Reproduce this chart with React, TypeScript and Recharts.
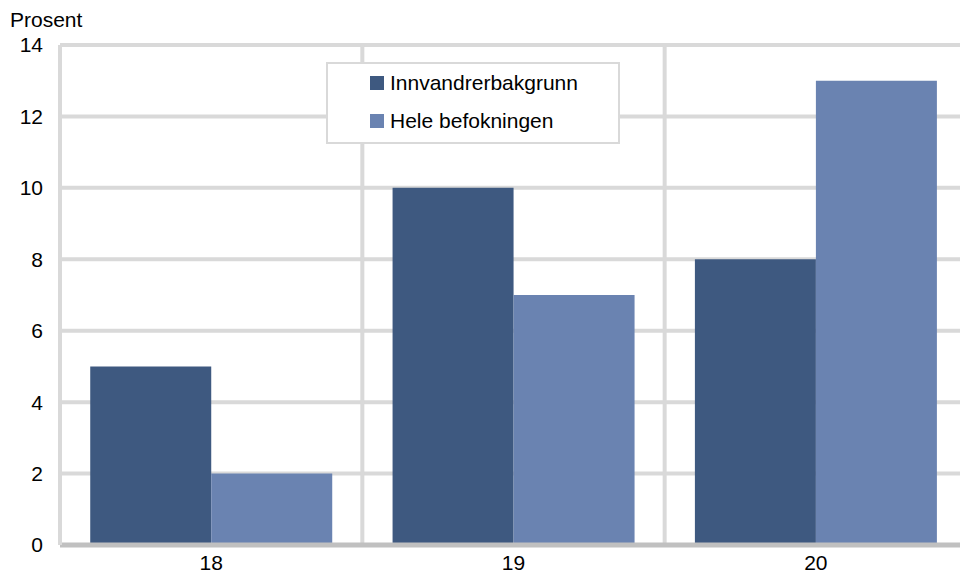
import { Bar, BarChart, CartesianGrid, XAxis, YAxis } from 'recharts';

const categories = ['18', '19', '20'];
const innvandrer = [5, 10, 8];
const heleBefolkningen = [2, 7, 13];
const yTicks = [0, 2, 4, 6, 8, 10, 12, 14];

const seriesNames = ['Innvandrerbakgrunn', 'Hele befokningen'];
const colors = ['#3e5980', '#6a83b1'];

const data = categories.map((c, i) => ({
    name: c,
    innvandrer: innvandrer[i],
    hele: heleBefolkningen[i]
}));

const font = 'Arial, "Liberation Sans", sans-serif';

function LegendBox() {
    return (
        <div
            style={{
                position: 'absolute',
                left: 326,
                top: 62,
                boxSizing: 'border-box',
                width: 294,
                height: 82,
                border: '2px solid #d9d9d9',
                background: '#fff',
                fontFamily: font,
                fontSize: 21,
                color: '#000',
                paddingLeft: 42,
                paddingTop: 0
            }}
        >
            {seriesNames.map((n, i) => (
                <div key={n} style={{ display: 'flex', alignItems: 'center', height: 38 }}>
                    <span style={{ display: 'inline-block', width: 14, height: 14, background: colors[i], marginRight: 6 }} />
                    <span>{n}</span>
                </div>
            ))}
        </div>
    );
}

export default function App() {
    return (
        <div style={{ position: 'absolute', left: 0, top: 0, width: 960, height: 579, overflow: 'hidden', background: '#fff' }}>
            <div style={{ position: 'absolute', left: 10, top: 8, fontFamily: font, fontSize: 21, color: '#000' }}>Prosent</div>
            <BarChart
                width={975}
                height={579}
                data={data}
                margin={{ top: 45, right: 8, left: 0, bottom: 4 }}
                barCategoryGap="10%"
                barGap={0}
            >
                <CartesianGrid
                    stroke="#d9d9d9"
                    strokeWidth={4}
                    verticalCoordinatesGenerator={({ offset }: any) => [
                        offset.left + offset.width / 3,
                        offset.left + (2 * offset.width) / 3
                    ]}
                />
                <XAxis
                    dataKey="name"
                    height={30}
                    axisLine={{ stroke: '#c0c0c0', strokeWidth: 5 }}
                    tickLine={false}
                    tickMargin={4}
                    tick={{ fill: '#000', fontSize: 21, fontFamily: font }}
                />
                <YAxis
                    width={60}
                    domain={[0, 14]}
                    ticks={yTicks}
                    interval={0}
                    axisLine={{ stroke: '#d9d9d9', strokeWidth: 4 }}
                    tickLine={false}
                    tickMargin={11}
                    tick={{ fill: '#000', fontSize: 21, fontFamily: font }}
                />
                <Bar dataKey="innvandrer" name={seriesNames[0]} fill={colors[0]} isAnimationActive={false} />
                <Bar dataKey="hele" name={seriesNames[1]} fill={colors[1]} isAnimationActive={false} />
            </BarChart>
            <LegendBox />
        </div>
    );
}
